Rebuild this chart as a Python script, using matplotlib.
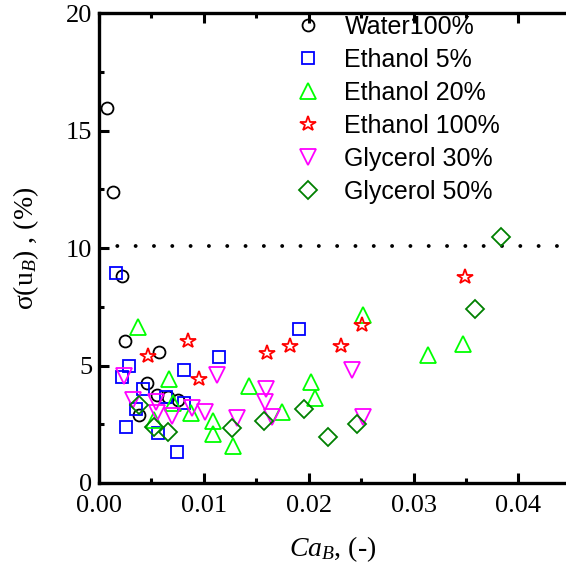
import matplotlib
matplotlib.use('Agg')
import matplotlib.pyplot as plt

plt.rcParams['font.family'] = 'Liberation Serif'
plt.rcParams['mathtext.fontset'] = 'custom'
plt.rcParams['mathtext.rm'] = 'Liberation Serif'
plt.rcParams['mathtext.it'] = 'Liberation Serif:italic'

# water 100 %
water_x = [0.00081, 0.00133, 0.00218, 0.00247, 0.00574, 0.00462, 0.00552, 0.00660, 0.00758, 0.00377]
water_y = [15.99, 12.39, 8.83, 6.06, 5.59, 4.25, 3.75, 3.66, 3.54, 2.90]

# ethanol 5 %
eth5_x = [0.00161, 0.00288, 0.00224, 0.00815, 0.01143, 0.01911, 0.00424, 0.00641, 0.00815,
          0.00355, 0.00567, 0.00259, 0.00745]
eth5_y = [8.93, 4.99, 4.50, 4.83, 5.36, 6.55, 3.99, 3.68, 3.42, 3.14, 2.12, 2.40, 1.32]

# ethanol 20 %
eth20_x = [0.00371, 0.00669, 0.00704, 0.00876, 0.01092, 0.01086, 0.01276, 0.01432, 0.01743,
           0.02023, 0.02061, 0.02521, 0.03475, 0.03141, 0.00520]
eth20_y = [6.63, 4.42, 3.42, 3.00, 2.64, 2.08, 1.58, 4.13, 3.04, 4.32, 3.61, 7.14, 5.92, 5.45, 2.70]

# ethanol 100 %
eth100_x = [0.00466, 0.00853, 0.00952, 0.01606, 0.01823, 0.02309, 0.02506, 0.03491]
eth100_y = [5.41, 6.05, 4.42, 5.53, 5.85, 5.85, 6.73, 8.79]

# glycerol 30 %
gly30_x = [0.00234, 0.01124, 0.02411, 0.01594, 0.01584, 0.01648, 0.02516, 0.01315, 0.00329,
           0.00545, 0.00886, 0.01012, 0.00695, 0.00552]
gly30_y = [4.56, 4.60, 4.81, 3.99, 3.46, 2.82, 2.82, 2.76, 3.54, 3.46, 3.21, 3.01, 2.87, 2.97]

# glycerol 50 %
gly50_x = [0.00377, 0.00529, 0.00657, 0.01273, 0.01578, 0.01956, 0.02182, 0.02459, 0.03586, 0.03834]
gly50_y = [3.32, 2.40, 2.19, 2.36, 2.65, 3.14, 1.97, 2.51, 7.40, 10.49]

limit_y = 10.1

fig = plt.figure(figsize=(5.66, 5.73), dpi=100)
ax = fig.add_axes([0.1749, 0.1571, 0.8251, 0.8195])

ax.plot([0, 0.046], [limit_y, limit_y], color='black', lw=2.8,
        dashes=(0.01, 4.7), dash_capstyle='round')

mew = 1.3
ax.plot(water_x, water_y, 'o', ms=8.6, mfc='none', mec='black', mew=mew, label='Water100%')
ax.plot(eth5_x, eth5_y, 's', ms=8.0, mfc='none', mec='#0000ff', mew=mew, label='Ethanol 5%')
ax.plot(eth20_x, eth20_y, '^', ms=11.8, mfc='none', mec='#00ff00', mew=mew, label='Ethanol 20%')
ax.plot(eth100_x, eth100_y, '*', ms=11.4, mfc='none', mec='#ff0000', mew=mew, label='Ethanol 100%')
ax.plot(gly30_x, gly30_y, 'v', ms=11.8, mfc='none', mec='#ff00ff', mew=mew, label='Glycerol 30%')
ax.plot(gly50_x, gly50_y, 'D', ms=9.0, mfc='none', mec='#008000', mew=mew, label='Glycerol 50%')

ax.set_xlim(0, 0.04454)
ax.set_ylim(0, 20)
ax.set_xticks([0.00, 0.01, 0.02, 0.03, 0.04])
ax.set_xticklabels(['0.00', '0.01', '0.02', '0.03', '0.04'])
ax.set_xticks([0.005, 0.015, 0.025, 0.035], minor=True)
ax.set_yticks([0, 5, 10, 15, 20])
ax.set_yticks([2.5, 7.5, 12.5, 17.5], minor=True)

for s in ['left', 'bottom', 'top']:
    ax.spines[s].set_linewidth(2.4)
ax.spines['right'].set_visible(False)
ax.tick_params(which='both', direction='in', top=True, right=False, labelsize=19, width=2.2)
ax.tick_params(which='major', length=7)
ax.tick_params(which='minor', length=3.5)
ax.tick_params(axis='x', pad=9)
ax.tick_params(axis='y', pad=5)

ax.set_xlabel(r'$Ca_{B}$, (-)', fontsize=20, labelpad=12)
ax.set_ylabel(r'σ(u$_{B}$) , (%)', fontsize=20, labelpad=18)

leg = ax.legend(loc='upper left', bbox_to_anchor=(295 / 566, 1 - 15 / 573),
                bbox_transform=fig.transFigure, frameon=False, handlelength=1.0,
                handletextpad=0.98, labelspacing=0.36, borderpad=0, borderaxespad=0,
                prop={'family': 'Liberation Sans', 'size': 18})

fig.savefig('out.png', dpi=100)
